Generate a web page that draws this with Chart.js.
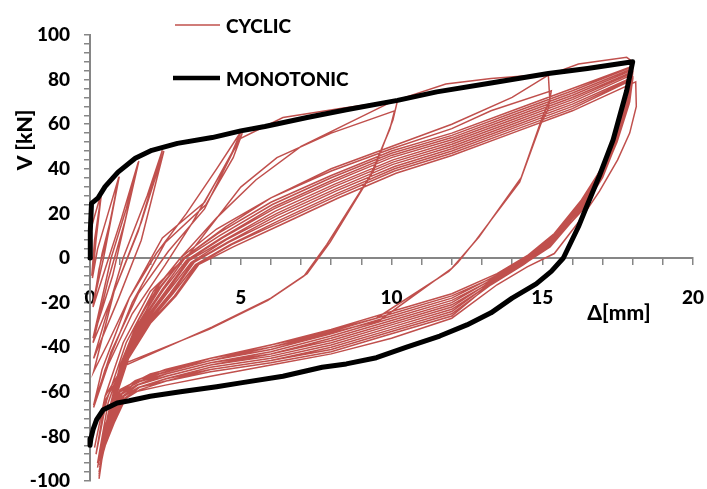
<!DOCTYPE html>
<html>
<head>
<meta charset="utf-8">
<script src="https://cdn.jsdelivr.net/npm/chart.js@4/dist/chart.umd.min.js"></script>
<style>
  html, body { margin: 0; padding: 0; background: #fff; }
  canvas { display: block; }
</style>
</head>
<body>
<canvas id="chart" width="707" height="489"></canvas>
<script>
// Horizontal displacement Δ [mm] and shear V [kN] for the cyclic test, in loading order.
const cyclicDisp = [
  // 0.35 mm cycles
  0, 0.05, 0.35, 0.25, 0.12, 0.06, 0.15, 0.38, 0.2, 0.08,
  // 1 mm cycles
  0.25, 0.6, 0.95, 0.7, 0.4, 0.1, 0.45, 0.97, 0.6, 0.3, 0.1,
  // 1.6 mm cycles
  0.5, 1.05, 1.6, 1.2, 0.7, 0.1, 0.75, 1.62, 1.15, 0.6, 0.1,
  // 2.4 mm cycles
  0.8, 1.6, 2.4, 1.9, 1.1, 0.12, 0.95, 1.7, 2.45, 1.7, 0.8, 0.12,
  // 5 mm cycles
  0.6, 1.3, 2.2, 3.2, 4.2, 5, 4.7, 3.8, 2.4, 1.3, 0.4, 0.12,
  0.7, 1.6, 2.6, 3.8, 5.05, 4.75, 3.85, 2.5, 1.4, 0.5, 0.12,
  // 10 mm cycles
  0.6, 1.4, 2.5, 3.4, 4.3, 5, 6.4, 8.3, 10.2, 10.05, 9.4, 7.96, 7.2, 6, 4.04, 1.1, 0.5, 0.15,
  0.5, 1.1, 2, 3.3, 5, 6.2, 8, 10.1, 9.95, 9.3, 7.85, 7.1, 5.9, 3.95, 1.2, 0.5, 0.2,
  // 15 mm cycles
  0.55, 1.2, 2.1, 3, 4.2, 5.5, 7, 8.5, 10, 11.8, 13.3, 15.2, 15.25, 15, 14.3, 12.9, 12.3, 12, 9.6, 7, 4, 2, 1, 0.5, 0.25,
  0.6, 1.3, 2.2, 3.1, 4.5, 6, 8, 10, 12, 13.3, 15.3, 15.2, 14.95, 14.25, 12.8, 12.2, 11.9, 9.5, 7, 4, 2, 1, 0.5, 0.25,
  // 18 mm cycles
  0.6, 1.0, 1.6, 2.3, 3.0, 4.2, 6, 8, 10, 12, 14, 15.2, 16.2, 17.8, 18,
  17.9, 17.5, 17.0, 16.3, 15.4, 14.5, 13.5, 12, 10, 8, 6, 4, 2.5, 1.5, 1.0, 0.6, 0.3,
  0.62, 1.02, 1.62, 2.35, 3.1, 4.25, 6, 8, 10, 12, 14, 16, 18,
  17.88, 17.48, 16.98, 16.28, 15.38, 14.48, 13.5, 12, 10, 8, 6, 4, 2.5, 1.5, 1.0, 0.62, 0.3,
  0.64, 1.05, 1.66, 2.4, 3.15, 4.3, 6.05, 8, 10, 12, 14, 16, 17.95,
  17.86, 17.46, 16.96, 16.26, 15.36, 14.46, 13.45, 12, 10, 8, 6, 4, 2.5, 1.5, 1.02, 0.64, 0.3,
  0.66, 1.08, 1.7, 2.45, 3.2, 4.35, 6.1, 8.05, 10, 12, 14, 16, 18,
  17.9, 17.5, 17.0, 16.3, 15.35, 14.45, 13.45, 12, 10, 8, 6, 4, 2.5, 1.52, 1.04, 0.66, 0.3,
  0.68, 1.1, 1.74, 2.5, 3.25, 4.4, 6.1, 8.05, 10, 12, 14, 16, 17.95,
  17.88, 17.48, 16.98, 16.28, 15.34, 14.44, 13.4, 12, 10, 8, 6, 4, 2.52, 1.54, 1.06, 0.68, 0.32,
  0.7, 1.12, 1.78, 2.55, 3.3, 4.45, 6.15, 8.1, 10.05, 12, 14, 16, 18,
  17.86, 17.46, 16.96, 16.26, 15.32, 14.42, 13.4, 12, 10, 8, 6, 4, 2.52, 1.56, 1.08, 0.7, 0.32,
  0.72, 1.15, 1.82, 2.6, 3.35, 4.5, 6.2, 8.1, 10.05, 12, 14, 16, 18,
  17.9, 17.5, 17.0, 16.3, 15.3, 14.4, 13.35, 12, 10, 8, 6, 4, 2.54, 1.58, 1.1, 0.72, 0.32,
  0.74, 1.18, 1.86, 2.65, 3.4, 4.55, 6.2, 8.15, 10.05, 12, 14, 16, 17.95,
  17.88, 17.48, 16.98, 16.28, 15.3, 14.4, 13.35, 12, 10, 8, 6, 4, 2.54, 1.6, 1.12, 0.74, 0.34,
  0.76, 1.2, 1.9, 2.7, 3.45, 4.6, 6.25, 8.15, 10.1, 12, 14, 16, 18,
  17.86, 17.46, 16.96, 16.26, 15.28, 14.38, 13.3, 12, 10, 8, 6, 4, 2.56, 1.62, 1.14, 0.76, 0.34,
  0.78, 1.22, 1.94, 2.75, 3.5, 4.65, 6.3, 8.2, 10.1, 12, 14, 16, 18,
  17.9, 17.5, 17.0, 16.3, 15.28, 14.38, 13.3, 12, 10, 8, 6, 4, 2.56, 1.64, 1.16, 0.78, 0.34,
  0.8, 1.25, 1.98, 2.8, 3.55, 4.7, 6.3, 8.2, 10.1, 12, 14, 16, 18,
  17.88, 17.48, 16.98, 16.28, 15.26, 14.36, 13.25, 12, 10, 8, 6, 4, 2.58, 1.66, 1.18, 0.8, 0.36,
  0.82, 1.28, 2.02, 2.85, 3.6, 4.75, 6.35, 8.25, 10.15, 12, 14, 16, 18.1,
  18.12, 17.9, 17.5, 16.9, 16.2, 15.4, 14.5, 13.5, 12, 10, 8, 6, 4, 2.5, 1.5, 1.0, 0.6, 0.35
];
const cyclicForce = [
  // 0.35 mm cycles
  0, 14, 28, 14, 0, -8, 8, 29, 8, -9,
  // 1 mm cycles
  4, 20, 36, 18, 2, -21, 0, 36.5, 12, -5, -22,
  // 1.6 mm cycles
  -5, 18, 43, 22, 0, -36, -8, 43.5, 16, -10, -38,
  // 2.4 mm cycles
  -15, 12, 48.3, 28, 0, -45, -18, 8, 48, 16, -15, -51,
  // 5 mm cycles
  -38, -18, 2, 20, 40, 56.5, 47, 25, 9, -18, -50, -66,
  -42, -16, 3, 22, 56, 45, 24, 7, -20, -50, -67,
  // 10 mm cycles
  -48, -25, -3, 16, 37, 53.7, 63, 67, 70.7, 62, 39, 7, -7, -18, -31, -48.6, -62, -85,
  -62, -38, -15, 2, 31.8, 45, 56, 66, 58, 37, 6, -8, -19, -32, -47, -64, -88,
  // 15 mm cycles
  -64, -38, -15, 0, 18, 35, 50, 60, 70, 78, 80.5, 82.5, 71, 63, 36, 9.4, 0, -4.6, -28, -37, -46, -53, -60, -75, -92,
  -65, -38, -15, 0, 14, 27, 39, 49, 58, 66, 75, 67, 60, 34, 8, -2, -6, -27, -36, -45, -52, -59, -76, -94,
  // 18 mm cycles
  -70, -48, -28, -12, 0, 13, 27, 40, 50, 60, 72, 82, 87, 90, 88,
  75, 57, 41, 26, 11, 1, -7, -16, -24, -32, -39, -45, -50, -55, -60, -70, -99,
  -69, -48, -29, -13, 0, 11, 25, 37, 48, 56, 66, 76, 86,
  74, 57, 40, 25, 10, 0, -8, -17, -25, -33, -40, -45, -51, -55, -60, -71, -98,
  -69, -48, -29, -14, 0, 10, 24, 36, 47, 55, 65, 75, 85.5,
  73, 56, 40, 25, 9, 0, -8, -18, -26, -34, -41, -46, -51, -56, -61, -71, -97,
  -68, -47, -29, -14, -1, 9, 23, 35, 46, 54, 64, 74, 85,
  73, 56, 39, 24, 9, -1, -9, -19, -27, -35, -42, -47, -52, -56, -61, -71, -96,
  -68, -47, -29, -15, -1, 9, 22, 34, 45, 53, 63, 73, 84,
  72, 55, 39, 24, 8, -1, -9, -20, -28, -36, -43, -47, -52, -57, -61, -72, -95,
  -67, -47, -29, -15, -1, 8, 21, 33, 44, 52, 62, 72, 83.5,
  72, 55, 38, 23, 8, -1, -10, -21, -29, -37, -43, -48, -53, -57, -62, -72, -94,
  -67, -46, -29, -15, -2, 8, 20, 32, 43, 51, 61, 71, 83,
  71, 54, 38, 23, 7, -2, -10, -22, -30, -38, -44, -48, -53, -57, -62, -72, -93,
  -66, -46, -29, -16, -2, 7, 19, 31, 42, 50, 60, 70, 82,
  71, 54, 37, 22, 7, -2, -11, -23, -31, -39, -45, -49, -54, -58, -62, -73, -92,
  -66, -46, -29, -16, -2, 7, 18, 30, 41, 49, 59, 69, 81,
  70, 53, 37, 22, 6, -2, -11, -24, -32, -40, -46, -50, -54, -58, -63, -73, -91,
  -65, -45, -29, -16, -3, 6, 17, 29, 40, 48, 58, 68, 80.5,
  70, 53, 36, 21, 6, -3, -12, -25, -33, -41, -46, -50, -55, -58, -63, -73, -90,
  -65, -45, -29, -17, -3, 6, 16, 28, 39, 47, 57, 67, 80,
  69, 52, 36, 21, 5, -3, -12, -26, -34, -42, -47, -51, -55, -59, -63, -74, -89,
  -64, -45, -29, -17, -3, 5, 15, 27, 38, 46, 56, 66, 79,
  68, 56, 44, 30, 16, 2, -4, -12, -27, -36, -43, -48, -53, -57, -60, -64, -74, -88
];

// Monotonic push to 18 mm and return to zero displacement.
const monoDisp = [
  0, 0.01, 0.05, 0.27, 0.5, 0.93, 1.5, 2.05, 2.9, 4.05,
  5, 5.8, 7.2, 8.5, 10.2, 11.5, 13.3, 15.2, 16.5, 18,
  17.8, 17.35, 16.9, 16.5, 16.2, 15.7, 15.3, 14.8, 14, 13.3,
  12.5, 11.6, 10.5, 9.5, 8.5, 7.7, 6.4, 5, 4.2, 3,
  2, 1.3, 0.9, 0.44, 0.22, 0.1, 0.03, 0
];
const monoForce = [
  0, 12, 24.5, 27, 32, 38.5, 44.7, 48.3, 51.4, 54,
  57, 59, 63, 66.5, 70.7, 74.5, 78.5, 82.7, 85, 88,
  75, 53, 37, 24, 14, 0, -6, -11.6, -18, -24.6,
  -30, -35, -40, -44.7, -47.5, -49, -53, -56, -57.7, -60,
  -62, -64, -65, -68, -72.5, -77, -81, -84
];

// Axis ticks: every 1 mm / 4 kN, labelled every 5 mm / 20 kN.
const xLabelValues = [0, 5, 10, 15, 20];
const yLabelValues = [-100, -80, -60, -40, -20, 0, 20, 40, 60, 80, 100];

const RED = '#C0504D';
const AXIS_GREY = '#868686';
const FONT_FAMILY = 'Lato, "Open Sans", sans-serif';
const FONT_WEIGHT = '900';
const labelFont = { family: FONT_FAMILY, size: 19, weight: FONT_WEIGHT };

const toPoints = (xs, ys) => xs.map((x, i) => ({ x: x, y: ys[i] }));

// Keep label overhang from shrinking the plot area.
const noOverhang = scale => {
  scale.paddingLeft = 0;
  scale.paddingRight = 0;
  scale.paddingTop = 0;
  scale.paddingBottom = 0;
};

// Legend entries and axis titles drawn on top of the plot.
const annotations = {
  id: 'annotations',
  afterDraw(chart) {
    const c = chart.ctx;
    const ds = chart.data.datasets;
    c.save();
    c.font = FONT_WEIGHT + ' 19px ' + FONT_FAMILY;
    c.fillStyle = '#000';
    c.textBaseline = 'middle';
    c.textAlign = 'left';

    c.lineCap = 'butt';
    c.strokeStyle = RED;
    c.lineWidth = 1.5;
    c.beginPath(); c.moveTo(175, 25); c.lineTo(220, 25); c.stroke();
    c.fillText(ds[0].label, 226, 27);

    c.strokeStyle = '#000';
    c.lineWidth = 4.5;
    c.beginPath(); c.moveTo(173, 78); c.lineTo(220, 78); c.stroke();
    c.fillText(ds[1].label, 226, 80);

    c.font = FONT_WEIGHT + ' 21px ' + FONT_FAMILY;
    c.textAlign = 'center';
    c.fillText('Δ[mm]', 619, 313);

    c.translate(25, 140);
    c.rotate(-Math.PI / 2);
    c.fillText('V [kN]', 0, 0);
    c.restore();
  }
};

new Chart(document.getElementById('chart'), {
  type: 'scatter',
  data: {
    datasets: [
      {
        label: 'CYCLIC',
        data: toPoints(cyclicDisp, cyclicForce),
        showLine: true,
        borderColor: RED,
        borderWidth: 1.5,
        pointRadius: 0,
        tension: 0,
        order: 2,
        clip: false
      },
      {
        label: 'MONOTONIC',
        data: toPoints(monoDisp, monoForce),
        showLine: true,
        borderColor: '#000',
        borderWidth: 5,
        borderJoinStyle: 'round',
        borderCapStyle: 'round',
        pointRadius: 0,
        tension: 0,
        order: 1,
        clip: false
      }
    ]
  },
  options: {
    responsive: false,
    animation: false,
    devicePixelRatio: 1,
    layout: { padding: { left: 0, right: 14, top: 35, bottom: 8 } },
    plugins: {
      legend: { display: false },
      tooltip: { enabled: false }
    },
    scales: {
      x: {
        type: 'linear',
        min: 0,
        max: 20,
        position: { y: 0 },
        afterFit: noOverhang,
        ticks: {
          stepSize: 1,
          autoSkip: false,
          maxRotation: 0,
          padding: 22,
          color: '#000',
          font: labelFont,
          callback: v => xLabelValues.includes(v) ? String(v) : ''
        },
        grid: { drawOnChartArea: false, drawTicks: true, tickLength: 6, color: AXIS_GREY, lineWidth: 1.5 },
        border: { display: true, color: AXIS_GREY, width: 2 }
      },
      y: {
        type: 'linear',
        min: -100,
        max: 100,
        position: 'left',
        afterFit: scale => { noOverhang(scale); scale.width = 90; },
        ticks: {
          stepSize: 4,
          autoSkip: false,
          padding: 14,
          color: '#000',
          font: labelFont,
          callback: v => yLabelValues.includes(Math.round(v)) && Math.abs(v - Math.round(v)) < 1e-6 ? String(Math.round(v)) : ''
        },
        grid: { drawOnChartArea: false, drawTicks: true, tickLength: 6, color: AXIS_GREY, lineWidth: 1.5 },
        border: { display: true, color: AXIS_GREY, width: 2 }
      }
    }
  },
  plugins: [annotations]
});
</script>
</body>
</html>
